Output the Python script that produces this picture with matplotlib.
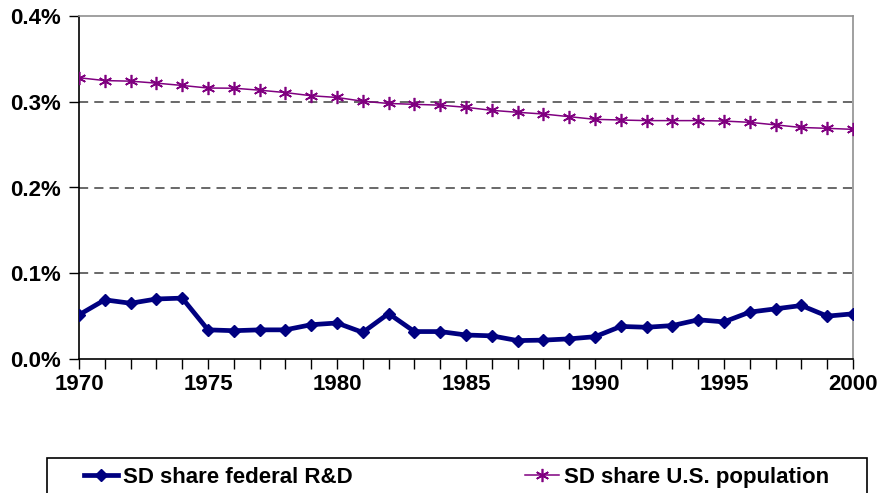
import matplotlib.pyplot as plt
from matplotlib.patches import Rectangle
from matplotlib.ticker import FuncFormatter, MultipleLocator

years = list(range(1970, 2001))
rd_share = [0.0515, 0.069, 0.065, 0.070, 0.071, 0.034, 0.033, 0.034, 0.034, 0.040,
            0.042, 0.031, 0.053, 0.032, 0.032, 0.028, 0.027, 0.0215, 0.022, 0.0235,
            0.026, 0.038, 0.037, 0.039, 0.0457, 0.0433, 0.0547, 0.0585, 0.0624, 0.050,
            0.0527]
pop_share = [0.328, 0.3247, 0.324, 0.3217, 0.319, 0.316, 0.3158, 0.3135, 0.3107, 0.307,
             0.305, 0.3006, 0.298, 0.297, 0.296, 0.2935, 0.290, 0.2877, 0.2857, 0.2826,
             0.2795, 0.2787, 0.278, 0.278, 0.278, 0.2775, 0.276, 0.273, 0.270, 0.269,
             0.2678]
labels = ["SD share federal R&D", "SD share U.S. population"]

plt.rcParams['font.family'] = ['Liberation Sans', 'DejaVu Sans']

W, H = 881, 493
fig = plt.figure(figsize=(W / 100, H / 100), dpi=100)
ax = fig.add_axes([79 / W, 1 - 359 / H, (853 - 79) / W, (359 - 16) / H])

ax.plot(years, rd_share, color='#000080', lw=3.4, marker='D', ms=6,
        label=labels[0], zorder=3)
ax.plot(years, pop_share, color='#800080', lw=1.1, marker=(6, 2, 0), ms=9.5,
        mew=1.2, label=labels[1], zorder=3)

ax.set_xlim(1970, 2000)
ax.set_ylim(0, 0.4)
ax.xaxis.set_major_locator(MultipleLocator(5))
ax.xaxis.set_minor_locator(MultipleLocator(1))
ax.yaxis.set_major_locator(MultipleLocator(0.1))
ax.yaxis.set_major_formatter(FuncFormatter(lambda v, p: f"{v:.1f}%"))

for y in [0.1, 0.2, 0.3]:
    ax.axhline(y, color='#404040', lw=1.1, ls=(0, (6, 4)), zorder=1)

ax.tick_params(axis='x', which='both', direction='out', length=7, width=1,
               labelsize=16, pad=4)
ax.tick_params(axis='y', direction='out', length=7, width=1, labelsize=16, pad=6)
for lab in ax.get_xticklabels() + ax.get_yticklabels():
    lab.set_fontweight('bold')

ax.spines['left'].set_color('black')
ax.spines['bottom'].set_color('black')
ax.spines['top'].set_color('#909090')
ax.spines['right'].set_color('#909090')
for s in ax.spines.values():
    s.set_linewidth(1.2)

# legend frame and entries
fig.patches.append(Rectangle((47 / W, -6 / H), (867 - 47) / W, (493 - 458 + 6) / H,
                             transform=fig.transFigure, fill=False, ec='black', lw=1.2))
h = ax.get_lines()
lx = [84, 525]
for i in range(2):
    fig.legend([h[i]], [labels[i]], loc='center left',
               bbox_to_anchor=(lx[i] / W, 1 - 477.5 / H), frameon=False,
               borderpad=0, borderaxespad=0, handlelength=1.55, handletextpad=0.2,
               prop={'weight': 'bold', 'size': 16})

plt.savefig('out.png', dpi=100)
